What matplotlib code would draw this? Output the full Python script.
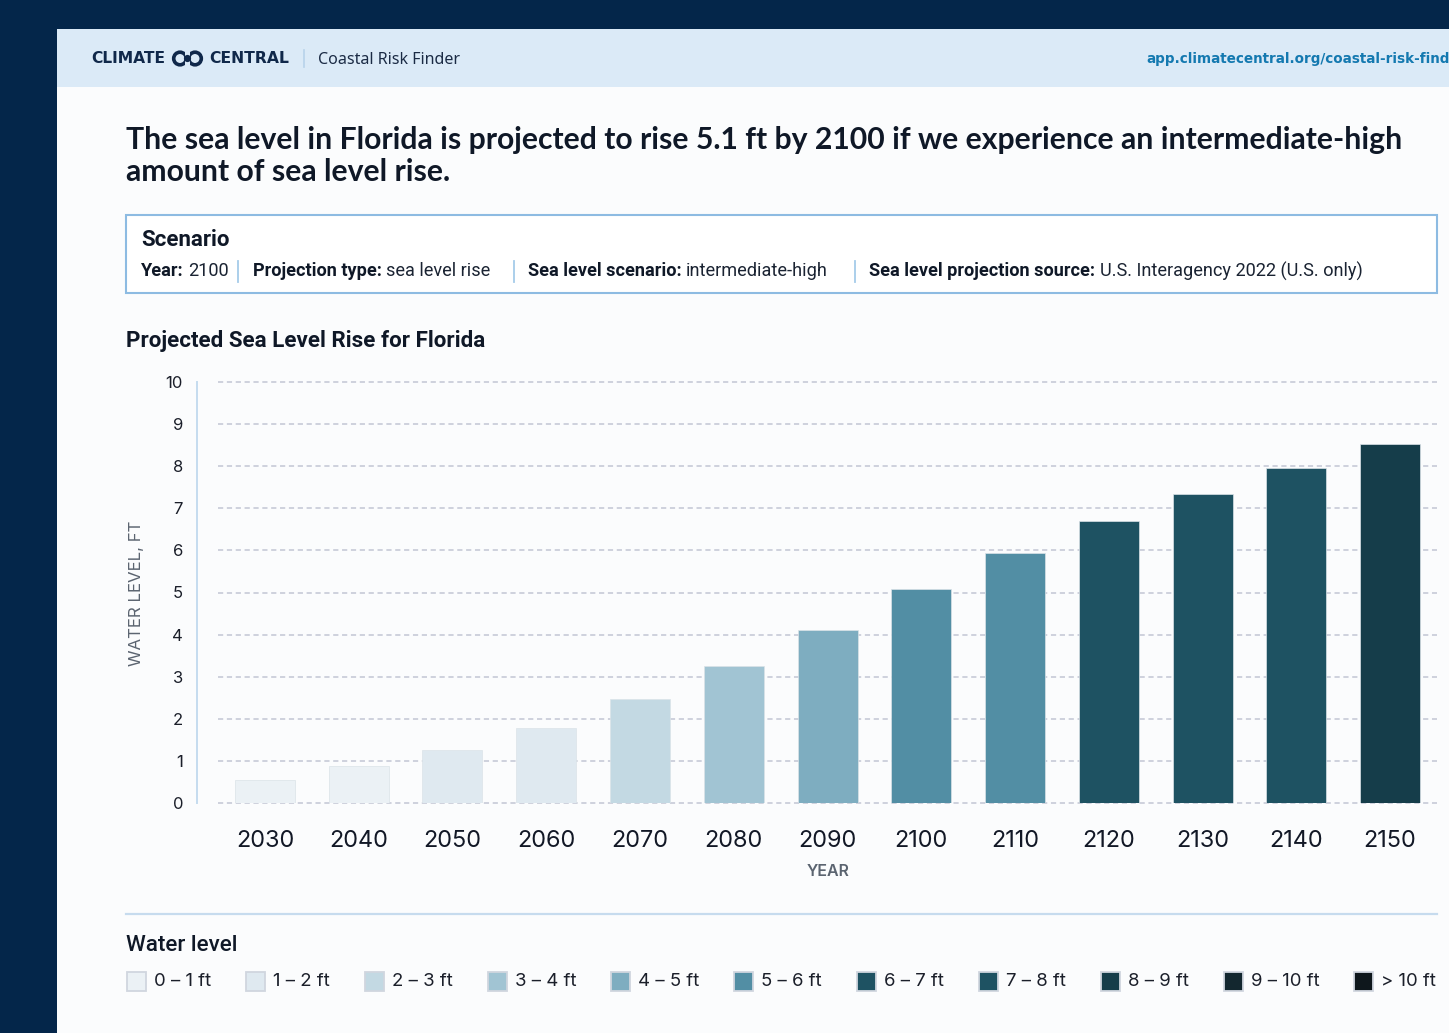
import matplotlib
matplotlib.use("Agg")
import matplotlib.pyplot as plt
from matplotlib.patches import Rectangle, Circle
from matplotlib.lines import Line2D

# ---------------- data ----------------
years = ["2030", "2040", "2050", "2060", "2070", "2080", "2090",
         "2100", "2110", "2120", "2130", "2140", "2150"]
water_level_ft = [0.55, 0.89, 1.25, 1.78, 2.48, 3.25, 4.11,
                  5.08, 5.94, 6.69, 7.34, 7.95, 8.52]
y_ticks = [0, 1, 2, 3, 4, 5, 6, 7, 8, 9, 10]
legend_labels = ["0 – 1 ft", "1 – 2 ft", "2 – 3 ft", "3 – 4 ft", "4 – 5 ft",
                 "5 – 6 ft", "6 – 7 ft", "7 – 8 ft", "8 – 9 ft", "9 – 10 ft",
                 "> 10 ft"]
legend_colors = ["#ebf1f5", "#dfe9f0", "#c3d9e3", "#a1c4d3", "#7eadc0",
                 "#528ea4", "#1e5262", "#1e5262", "#153d4a", "#13272f",
                 "#0e171c"]
scenario_items = [("Year:", "2100"),
                  ("Projection type:", "sea level rise"),
                  ("Sea level scenario:", "intermediate-high"),
                  ("Sea level projection source:", "U.S. Interagency 2022 (U.S. only)")]
title_lines = ["The sea level in Florida is projected to rise 5.1 ft by 2100 if we experience an intermediate-high",
               "amount of sea level rise."]
chart_title = "Projected Sea Level Rise for Florida"

# ---------------- style ----------------
W, H, DPI = 1449, 1033, 100
NAVY = "#04264a"
CARD = "#fbfcfd"
HEADER = "#dbeaf7"
DARK = "#0f1827"
GRAY = "#5b6470"
LIGHTBLUE = "#c5dcef"

fig = plt.figure(figsize=(W / DPI, H / DPI), dpi=DPI, facecolor=NAVY)
renderer = fig.canvas.get_renderer()


def fx(x):
    return x / W


def fy(y):
    return 1 - y / H


def text_px(x, y, s, size_px, target_w=None, ha="left", va="center", **kw):
    t = fig.text(fx(x), fy(y), s, fontsize=size_px * 0.72, ha=ha, va=va, **kw)
    if target_w:
        w = t.get_window_extent(renderer).width
        t.set_fontsize(t.get_fontsize() * target_w / w)
    return t


def width_px(t):
    return t.get_window_extent(renderer).width


# card and header band
fig.add_artist(Rectangle((fx(57), 0), 1 - fx(57), fy(29), transform=fig.transFigure,
                         facecolor=CARD, edgecolor="none", zorder=0))
fig.add_artist(Rectangle((fx(57), fy(87)), 1 - fx(57), fy(29) - fy(87), transform=fig.transFigure,
                         facecolor=HEADER, edgecolor="none", zorder=0))

# header logo / text
logo_col = "#10284a"
text_px(91, 58.5, "CLIMATE", 15, target_w=75, color=logo_col, family="DejaVu Sans", weight="bold")
text_px(209, 58.5, "CENTRAL", 15, target_w=80, color=logo_col, family="DejaVu Sans", weight="bold")
lax = fig.add_axes([fx(171), fy(68.5), 34 / W, 20 / H])
lax.set_xlim(0, 34)
lax.set_ylim(0, 20)
lax.axis("off")
lax.add_patch(Circle((9, 10), 6.3, facecolor="none", edgecolor=logo_col, lw=2.6))
lax.add_patch(Circle((24, 10), 6.3, facecolor="none", edgecolor=logo_col, lw=2.6))
lax.add_patch(Circle((16.5, 10), 3.6, facecolor=logo_col, edgecolor="none", zorder=3))
lax.add_patch(Rectangle((14.2, 3), 4.6, 14, facecolor=HEADER, edgecolor="none", zorder=2))
fig.add_artist(Line2D([fx(304), fx(304)], [fy(50), fy(67)], transform=fig.transFigure,
                      color="#b7d3ea", lw=1.2))
text_px(318, 59.5, "Coastal Risk Finder", 16, target_w=142, color="#1b2b45", family="Noto Sans")
url = text_px(1146, 58.5, "app.climatecentral.org/coastal-risk-find", 15, target_w=303,
              color="#1479b0", family="DejaVu Sans", weight="bold")
url.set_text("app.climatecentral.org/coastal-risk-finder")

# title
t1 = text_px(126, 140, title_lines[0], 27, target_w=1274, color=DARK, family="Lato", weight="bold")
text_px(126, 172, title_lines[1], 27, color=DARK, family="Lato", weight="bold").set_fontsize(t1.get_fontsize())

# scenario box
fig.add_artist(Rectangle((fx(126), fy(293)), fx(1437) - fx(126), fy(215) - fy(293),
                         transform=fig.transFigure, facecolor="white", edgecolor="#8dbbe2",
                         lw=1.5, zorder=1))
text_px(141, 239.5, "Scenario", 20, target_w=88, color=DARK, family="Roboto", weight="bold", zorder=2)
group_x = [141, 253, 528, 869]
group_w = [82, 244, 310, 504]
sep_x = [238, 514, 855]
base = 17.0
gap = 4.5
# measure natural widths to pick a common size
scales = []
for (lab, val), gw in zip(scenario_items, group_w):
    a = text_px(0, 0, lab, base, family="Roboto", weight="bold")
    b = text_px(0, 0, val, base, family="Roboto")
    scales.append(gw / (width_px(a) + width_px(b) + gap))
    a.remove()
    b.remove()
row_size = base * sum(scales) / len(scales)
for (lab, val), gx in zip(scenario_items, group_x):
    tb = text_px(gx, 271.5, lab, row_size, color=DARK, family="Roboto", weight="bold", zorder=2)
    bw = width_px(tb)
    text_px(gx + bw + gap, 271.5, val, row_size, color="#1a2332", family="Roboto", zorder=2)
for sx in sep_x:
    fig.add_artist(Line2D([fx(sx), fx(sx)], [fy(261), fy(282)], transform=fig.transFigure,
                          color="#a5cbe9", lw=1.3, zorder=2))

# chart title
text_px(126, 341.5, chart_title, 20, target_w=358, color=DARK, family="Roboto", weight="bold")

# ---------------- chart ----------------
band = (1437 - 218) / 13.0
ax = fig.add_axes([fx(197), fy(803), fx(1437) - fx(197), fy(382) - fy(803)])
ax.set_facecolor("none")
ax.set_xlim(-0.5 - 21 / band, len(years) - 0.5)
ax.set_ylim(0, 10)
for v in y_ticks:
    ax.plot([-0.5, len(years) - 0.5], [v, v], ls=(0, (3.4, 2.4)), color="#c2c6d4",
            lw=1.1, zorder=1, clip_on=False)
bar_colors = [legend_colors[min(int(v), len(legend_colors) - 1)] for v in water_level_ft]
ax.bar(range(len(years)), water_level_ft, width=60 / band, color=bar_colors,
       edgecolor="#dbe3e8", linewidth=0.5, zorder=2)
for s in ("top", "right", "bottom"):
    ax.spines[s].set_visible(False)
ax.spines["left"].set_color(LIGHTBLUE)
ax.spines["left"].set_linewidth(1.4)
ax.set_yticks(y_ticks)
ax.set_yticklabels([str(v) for v in y_ticks], family=["Inter", "DejaVu Sans"],
                   fontsize=12, color="#1b1f2a")
ax.set_xticks(range(len(years)))
ax.set_xticklabels(years, family=["Inter", "DejaVu Sans"], fontsize=16.9, color="#121826")
ax.tick_params(axis="y", length=0, pad=10)
ax.tick_params(axis="x", length=0, pad=19.5)

yl = text_px(136, 593, "WATER LEVEL, FT", 15, target_w=146, color=GRAY,
             family=["Inter", "DejaVu Sans"], ha="center")
yl.set_rotation(90)
text_px(828, 871, "YEAR", 15, target_w=43, color=GRAY, family=["Inter", "DejaVu Sans"],
        ha="center", weight="semibold")

# separator
fig.add_artist(Line2D([fx(126), fx(1437)], [fy(914), fy(914)], transform=fig.transFigure,
                      color="#c6dbee", lw=1.6))

# legend
text_px(126, 945.5, "Water level", 20, target_w=112, color=DARK, family="Roboto", weight="medium")
x = 127
sw = 19
for lab, col in zip(legend_labels, legend_colors):
    fig.add_artist(Rectangle((fx(x), fy(981 + sw / 2)), sw / W, sw / H, transform=fig.transFigure,
                             facecolor=col, edgecolor="#d0d6df", lw=1.3))
    t = text_px(x + 27, 981.5, lab, 18.6, color="#1b1f2a", family=["Inter", "DejaVu Sans"])
    x = x + 27 + width_px(t) + 35

fig.savefig("out.png", dpi=DPI, facecolor=NAVY)
